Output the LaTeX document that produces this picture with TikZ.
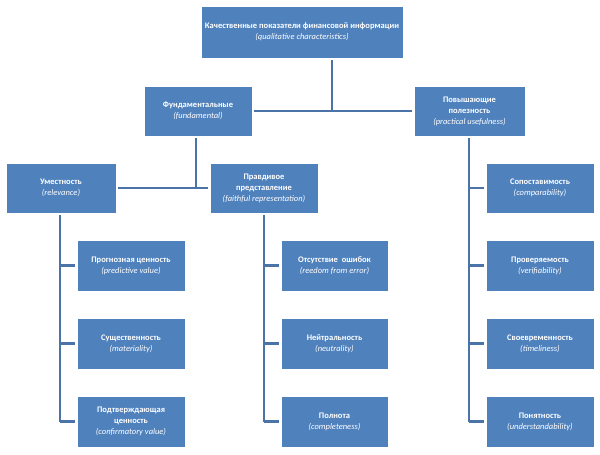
\documentclass[tikz,border=0pt]{standalone}
\usepackage{fontspec}
\setmainfont{Carlito}
\definecolor{boxc}{HTML}{4F81BD}
\definecolor{linec}{HTML}{4A74A8}
\begin{document}
\begin{tikzpicture}[x=1pt,y=-1pt,
  bx/.style={fill=boxc,draw=white,line width=0.6pt,text=white,align=center,font=\fontsize{8.5}{11}\selectfont,inner sep=0pt},
  ln/.style={draw=linec,line width=2.6pt}]
\useasboundingbox (0,0) rectangle (600,455);
\newcommand{\bb}[6]{\node[bx,minimum width=#3-#2,minimum height=#5-#4] (#1) at ({(#2+#3)/2},{(#4+#5)/2}) {#6};}
\bb{top}{201}{403}{6}{58}{\textbf{Качественные показатели финансовой информации}\\\textit{(qualitative characteristics)}}
\bb{fund}{144}{252}{86}{136}{\textbf{Фундаментальные}\\\textit{(fundamental)}}
\bb{prac}{414}{525}{86}{136}{\textbf{Повышающие}\\\textbf{полезность}\\\textit{(practical usefulness)}}
\bb{rel}{6}{116}{163}{213}{\textbf{Уместность}\\\textit{(relevance)}}
\bb{faith}{210}{318}{163}{213}{\textbf{Правдивое}\\\textbf{представление}\\\textit{(faithful representation)}}
\bb{r1}{77}{185}{240}{291}{\textbf{Прогнозная ценность}\\\textit{(predictive value)}}
\bb{r2}{77}{185}{318}{369}{\textbf{Существенность}\\\textit{(materiality)}}
\bb{r3}{77}{185}{396}{447}{\textbf{Подтверждающая}\\\textbf{ценность}\\\textit{(confirmatory value)}}
\bb{f1}{281}{388}{240}{291}{\textbf{Отсутствие\ \ ошибок}\\\textit{(reedom from error)}}
\bb{f2}{281}{388}{318}{369}{\textbf{Нейтральность}\\\textit{(neutrality)}}
\bb{f3}{281}{388}{396}{447}{\textbf{Полнота}\\\textit{(completeness)}}
\bb{p1}{486}{594}{163}{213}{\textbf{Сопоставимость}\\\textit{(comparability)}}
\bb{p2}{486}{594}{240}{291}{\textbf{Проверяемость}\\\textit{(verifiability)}}
\bb{p3}{486}{594}{318}{369}{\textbf{Своевременность}\\\textit{(timeliness)}}
\bb{p4}{486}{594}{396}{447}{\textbf{Понятность}\\\textit{(understandability)}}
% connectors
\coordinate (j1) at (332,110);
\draw[ln] ([yshift=-2pt]top.south -| j1) -- (j1);
\draw[ln] ([xshift=2pt]fund.east) -- ([xshift=-2pt]prac.west);
\coordinate (j2) at (196,187);
\draw[ln] ([yshift=-2pt]fund.south -| j2) -- (j2);
\draw[ln] ([xshift=2pt]rel.east) -- ([xshift=-2pt]faith.west);
\draw[ln] (60,215) -- (60,422);
\foreach \n in {r1,r2,r3} \draw[ln] (60,0 |- \n.west) -- ([xshift=-2pt]\n.west);
\draw[ln] (264,215) -- (264,422);
\foreach \n in {f1,f2,f3} \draw[ln] (264,0 |- \n.west) -- ([xshift=-2pt]\n.west);
\draw[ln] (469,138) -- (469,422);
\foreach \n in {p1,p2,p3,p4} \draw[ln] (469,0 |- \n.west) -- ([xshift=-2pt]\n.west);
\end{tikzpicture}
\end{document}
